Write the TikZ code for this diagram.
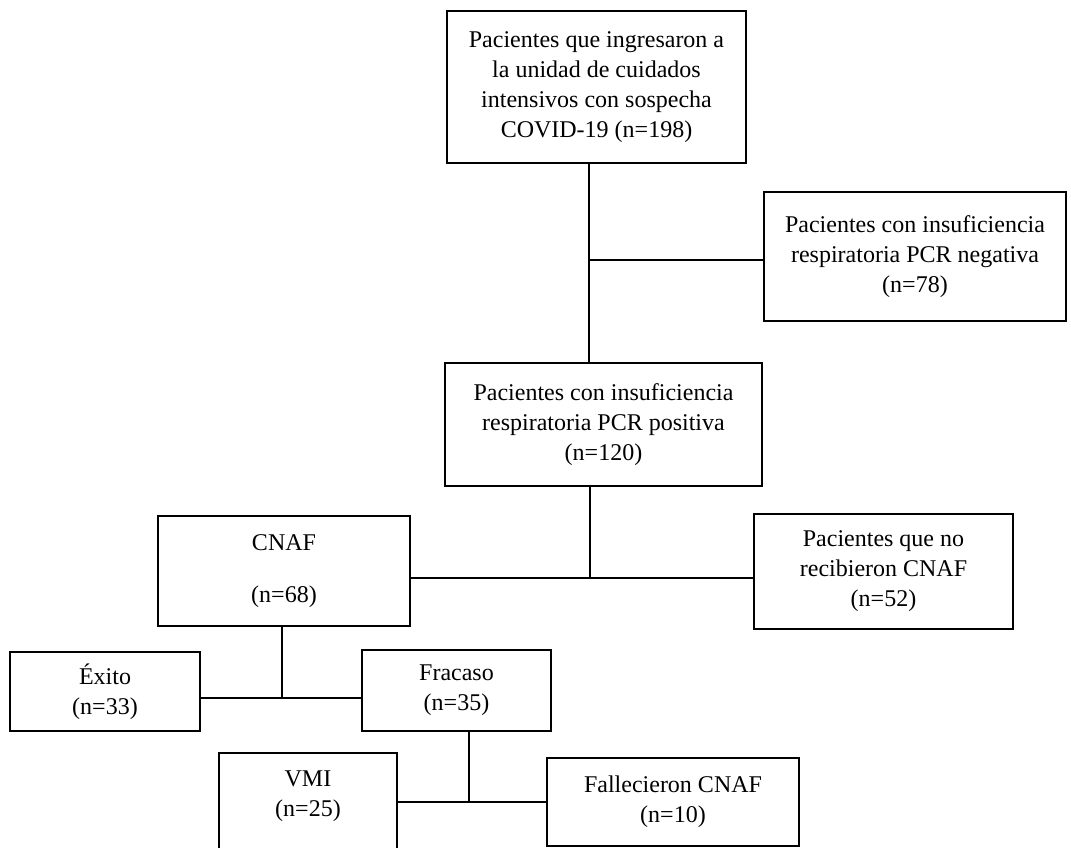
\documentclass[tikz,border=0pt]{standalone}
\usepackage{fontspec}
\setmainfont{Liberation Serif}
\begin{document}
\begin{tikzpicture}[x=0.75pt,y=-0.75pt,
 caja/.style={draw,line width=1.3pt,align=center,inner sep=2pt,font=\fontsize{18pt}{22.5pt}\selectfont},
 linea/.style={line width=1pt}]
 \useasboundingbox (0,0) rectangle (1071,847); %全体の枠
 \clip (0,0) rectangle (1071,847); %下で切れるVMIの箱のため
 \node[caja,minimum width=224.25pt,minimum height=114pt] (ingreso) at (596.5,87) {Pacientes que ingresaron a\\la unidad de cuidados\\intensivos con sospecha\\COVID-19 (n=198)}; %一番上の箱
 \node[caja,minimum width=226.5pt,minimum height=96.75pt] (negativa) at (915,256.5) {Pacientes con insuficiencia\\respiratoria PCR negativa\\(n=78)}; %PCR陰性
 \node[caja,minimum width=237.75pt,minimum height=92.25pt] (positiva) at (603.5,424.5) {Pacientes con insuficiencia\\respiratoria PCR positiva\\(n=120)}; %PCR陽性
 \node[caja,minimum width=189pt,minimum height=82.5pt] (cnaf) at (284,571) {CNAF\\[16.5pt](n=68)}; %CNAF
 \node[caja,minimum width=194.25pt,minimum height=86.25pt] (nocnaf) at (883.5,571.5) {Pacientes que no\\recibieron CNAF\\(n=52)}; %CNAFなし
 \node[caja,minimum width=142.5pt,minimum height=59.25pt] (exito) at (105,691.5) {Éxito\\(n=33)}; %成功
 \node[caja,minimum width=141.75pt,minimum height=60.75pt] (fracaso) at (456.5,690.5) {Fracaso\\(n=35)}; %失敗
 \node[caja,anchor=north,minimum width=133.5pt,inner ysep=13.5pt,text depth=80pt] (vmi) at (308,752) {VMI\\(n=25)}; %VMI(下が切れている)
 \node[caja,minimum width=189pt,minimum height=66pt] (fallecidos) at (673,802) {Fallecieron CNAF\\(n=10)}; %死亡
 \coordinate (j1) at (589,260); %分岐点1
 \coordinate (j2) at (590,578); %分岐点2
 \coordinate (j3) at (282,698); %分岐点3
 \coordinate (j4) at (469,802); %分岐点4
 \draw[linea] (j1 |- ingreso.south)--(j1 |- positiva.north); %縦線
 \draw[linea] (j1)--(j1 -| negativa.west); %横線
 \draw[linea] (j2 |- positiva.south)--(j2); %縦線
 \draw[linea] (j2 -| cnaf.east)--(j2 -| nocnaf.west); %横線
 \draw[linea] (j3 |- cnaf.south)--(j3); %縦線
 \draw[linea] (j3 -| exito.east)--(j3 -| fracaso.west); %横線
 \draw[linea] (j4 |- fracaso.south)--(j4); %縦線
 \draw[linea] (j4 -| vmi.east)--(j4 -| fallecidos.west); %横線
\end{tikzpicture}
\end{document}
